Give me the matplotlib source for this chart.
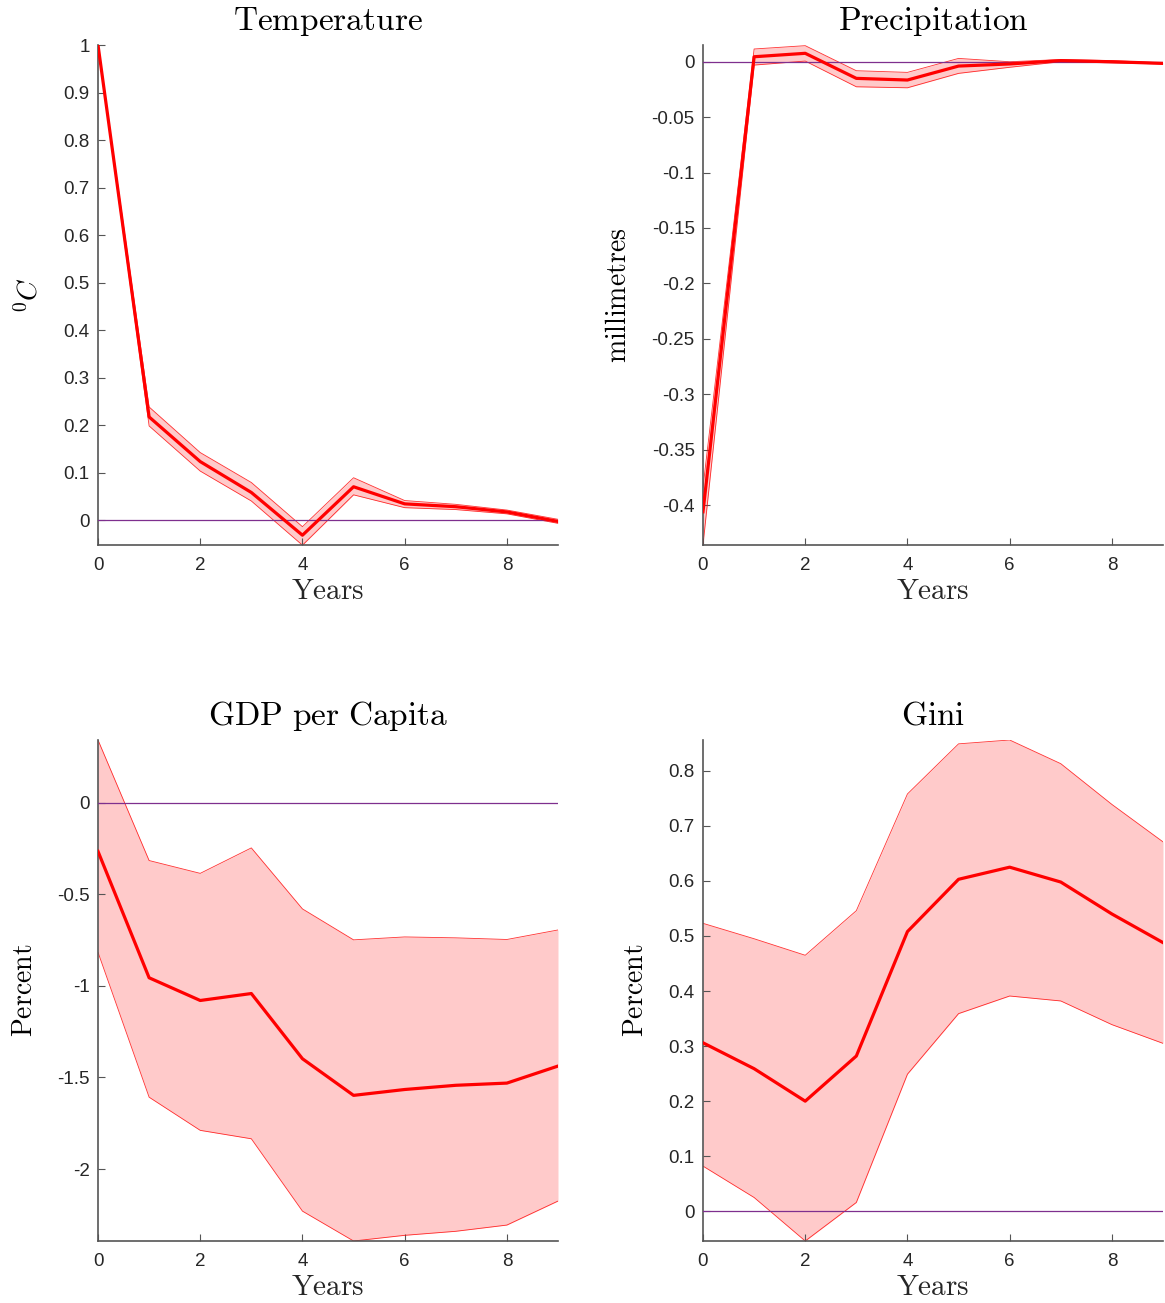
import matplotlib
matplotlib.use("Agg")
import matplotlib.pyplot as plt
import numpy as np

plt.rcParams['font.family'] = ['Liberation Sans', 'DejaVu Sans']
plt.rcParams['mathtext.fontset'] = 'cm'
plt.rcParams['axes.unicode_minus'] = False

years = [0, 1, 2, 3, 4, 5, 6, 7, 8, 9]

# Impulse responses (median) with lower / upper confidence bands
temp_mid = [1.0, 0.217, 0.123, 0.058, -0.032, 0.070, 0.034, 0.028, 0.017, -0.003]
temp_lo = [1.0, 0.198, 0.103, 0.040, -0.053, 0.053, 0.026, 0.022, 0.013, -0.007]
temp_hi = [1.0, 0.238, 0.142, 0.079, -0.014, 0.089, 0.041, 0.033, 0.021, 0.0015]

prec_mid = [-0.406, 0.0045, 0.0076, -0.015, -0.0165, -0.0039, -0.002, 0.001, 0.0, -0.0015]
prec_lo = [-0.436, -0.003, 0.0006, -0.0226, -0.0235, -0.0105, -0.005, 0.0, -0.001, -0.002]
prec_hi = [-0.384, 0.0115, 0.0145, -0.0081, -0.0096, 0.003, 0.0, 0.002, 0.001, -0.001]

gdp_mid = [-0.266, -0.956, -1.080, -1.042, -1.398, -1.598, -1.566, -1.543, -1.531, -1.438]
gdp_lo = [-0.817, -1.608, -1.789, -1.835, -2.230, -2.393, -2.362, -2.340, -2.306, -2.175]
gdp_hi = [0.342, -0.316, -0.386, -0.247, -0.580, -0.749, -0.733, -0.738, -0.747, -0.695]

gini_mid = [0.306, 0.259, 0.200, 0.282, 0.508, 0.603, 0.625, 0.598, 0.540, 0.488]
gini_lo = [0.082, 0.025, -0.054, 0.016, 0.249, 0.359, 0.391, 0.382, 0.339, 0.305]
gini_hi = [0.523, 0.495, 0.465, 0.546, 0.758, 0.849, 0.856, 0.813, 0.739, 0.671]

titles = ['Temperature', 'Precipitation', 'GDP per Capita', 'Gini']
ylabels = [r'$^0C$', r'$\mathrm{millimetres}$', r'$\mathrm{Percent}$', r'$\mathrm{Percent}$']
ylims = [(-0.0526, 1.0), (-0.436, 0.0151), (-2.393, 0.342), (-0.054, 0.856)]
yticks = [
    [0, 0.1, 0.2, 0.3, 0.4, 0.5, 0.6, 0.7, 0.8, 0.9, 1],
    [-0.4, -0.35, -0.3, -0.25, -0.2, -0.15, -0.1, -0.05, 0],
    [-2, -1.5, -1, -0.5, 0],
    [0, 0.1, 0.2, 0.3, 0.4, 0.5, 0.6, 0.7, 0.8],
]
series = [
    (temp_mid, temp_lo, temp_hi),
    (prec_mid, prec_lo, prec_hi),
    (gdp_mid, gdp_lo, gdp_hi),
    (gini_mid, gini_lo, gini_hi),
]

W, H = 1165, 1303
fig = plt.figure(figsize=(W / 100, H / 100), dpi=100)
boxes = [
    (98, 45, 558, 545),
    (703, 45, 1163, 545),
    (98, 740, 558, 1241),
    (703, 740, 1163, 1241),
]

band_color = '#ffcaca'
axis_color = '#555555'
text_color = '#262626'
zero_color = '#7e2f8e'


def fmt(v):
    s = ('%.2f' % v).rstrip('0').rstrip('.')
    return '0' if s in ('-0', '') else s


for i, (x0, y0, x1, y1) in enumerate(boxes):
    ax = fig.add_axes([x0 / W, 1 - y1 / H, (x1 - x0) / W, (y1 - y0) / H])
    mid, lo, hi = series[i]
    ax.fill_between(years, lo, hi, color=band_color, linewidth=0, zorder=1)
    ax.plot(years, lo, color='red', linewidth=0.6, alpha=0.8, zorder=2)
    ax.plot(years, hi, color='red', linewidth=0.6, alpha=0.8, zorder=2)
    ax.plot([years[0], years[-1]], [0, 0], color=zero_color, linewidth=0.9, zorder=3)
    ax.plot(years, mid, color='red', linewidth=2.3, zorder=4)

    ax.set_xlim(0, 9)
    ax.set_ylim(*ylims[i])
    ax.set_xticks([0, 2, 4, 6, 8])
    ax.set_yticks(yticks[i])
    ax.set_yticklabels([fmt(v) for v in yticks[i]])
    ax.tick_params(direction='in', length=5, width=0.8, colors=axis_color,
                   labelcolor=text_color, labelsize=13.5)
    ax.tick_params(axis='x', pad=9)
    ax.tick_params(axis='y', pad=6)
    for side in ('top', 'right'):
        ax.spines[side].set_visible(False)
    for side in ('left', 'bottom'):
        ax.spines[side].set_color(axis_color)
        ax.spines[side].set_linewidth(1.2)

    ax.set_title(r'$\mathrm{' + titles[i].replace(' ', r'\ ') + '}$',
                 fontsize=24, color='black', pad=11)
    ax.set_xlabel(r'$\mathrm{Years}$', fontsize=21, color=text_color, labelpad=2)
    ax.set_ylabel(ylabels[i], fontsize=20, color='black', labelpad=14)

fig.savefig('out.png', dpi=100)
